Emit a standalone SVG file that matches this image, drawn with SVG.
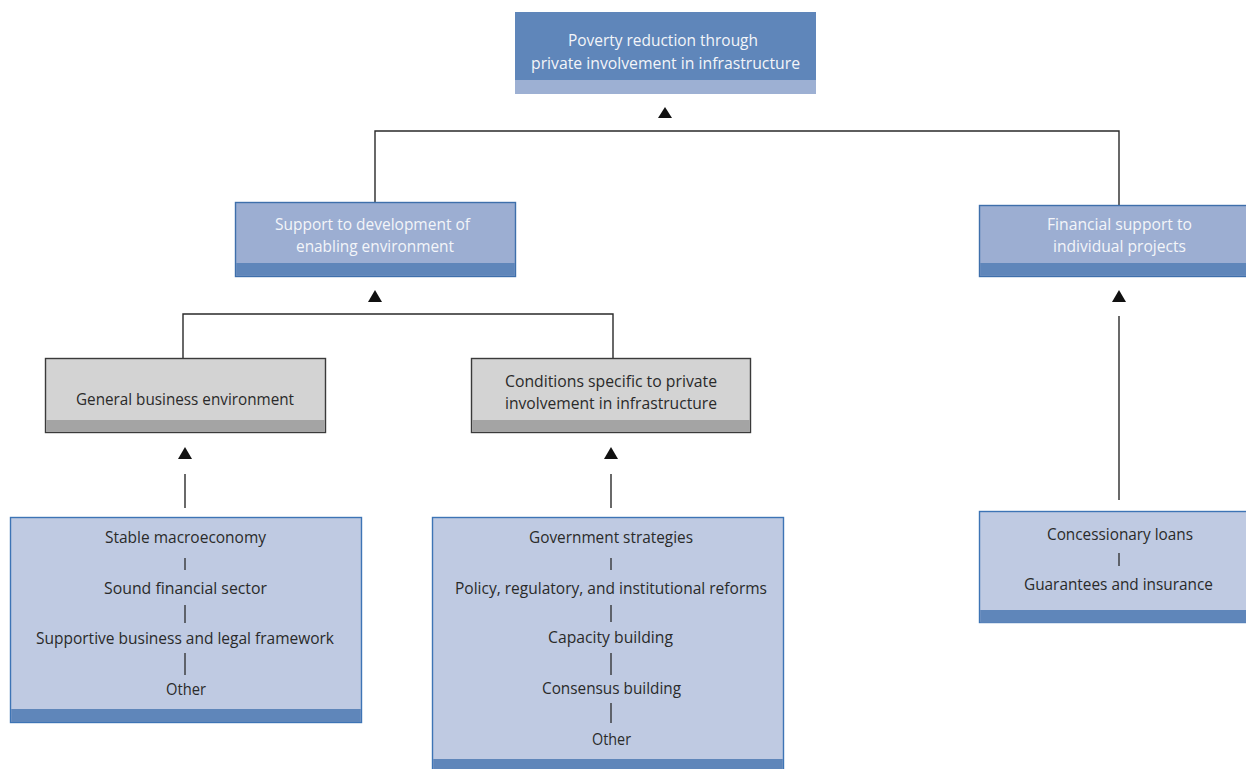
<svg xmlns="http://www.w3.org/2000/svg" width="1246" height="769" viewBox="0 0 1246 769">
<style>
text{font-family:"Open Sans","Liberation Sans",sans-serif;font-size:16.5px;text-anchor:middle}
.w{fill:#f3f5f9}
.d{fill:#2a2a2a}
.blueBox{fill:#9caed2;stroke:#3e6fab;stroke-width:1.4}
.topBox{fill:#5f86ba}
.strip{fill:#5f86ba}
.grayBox{fill:#d3d3d3;stroke:#3a3a3a;stroke-width:1.4}
.gstrip{fill:#a4a4a4}
.lightBox{fill:#bfcae2;stroke:#3d74b5;stroke-width:1.4}
.ln{stroke:#2a2a2a;stroke-width:1.4;fill:none}
.sep{stroke:#2a2a2a;stroke-width:1.3}
.tri{fill:#111}
</style>
<g id="connectors">
<polyline class="ln" points="375,202 375,131 1119,131 1119,205"/>
<polyline class="ln" points="183,358 183,314 613,314 613,358"/>
<line class="ln" x1="185" y1="474" x2="185" y2="508"/>
<line class="ln" x1="611" y1="474" x2="611" y2="508"/>
<line class="ln" x1="1119" y1="316" x2="1119" y2="500"/>
<polygon class="tri" points="665,107 672,118 658,118"/>
<polygon class="tri" points="375,290 382,302 368,302"/>
<polygon class="tri" points="1119,290 1126,302 1112,302"/>
<polygon class="tri" points="185,447 192,459 178,459"/>
<polygon class="tri" points="611,447 618,459 604,459"/>
</g>
<g id="n-poverty">
<rect class="topBox" x="515" y="12" width="301" height="68"/>
<rect fill="#9db0d3" x="515" y="80" width="301" height="14"/>
<text class="w" x="663" y="46" textLength="190" lengthAdjust="spacingAndGlyphs">Poverty reduction through</text>
<text class="w" x="665.5" y="69" textLength="269" lengthAdjust="spacingAndGlyphs">private involvement in infrastructure</text>
</g>
<g id="n-support">
<rect class="blueBox" x="235.5" y="202.5" width="280" height="74"/>
<rect class="strip" x="236.2" y="263" width="278.6" height="12.8"/>
<text class="w" x="372.5" y="230" textLength="195" lengthAdjust="spacingAndGlyphs">Support to development of</text>
<text class="w" x="375" y="252" textLength="158" lengthAdjust="spacingAndGlyphs">enabling environment</text>
</g>
<g id="n-financial">
<rect class="blueBox" x="979.5" y="205.5" width="280" height="71"/>
<rect class="strip" x="980.2" y="263" width="280" height="12.8"/>
<text class="w" x="1119.5" y="230" textLength="145" lengthAdjust="spacingAndGlyphs">Financial support to</text>
<text class="w" x="1119.5" y="252" textLength="133" lengthAdjust="spacingAndGlyphs">individual projects</text>
</g>
<g id="n-general">
<rect class="grayBox" x="45.5" y="358.5" width="280" height="74"/>
<rect class="gstrip" x="46.2" y="420" width="278.6" height="11.8"/>
<text class="d" x="185" y="405" textLength="218" lengthAdjust="spacingAndGlyphs">General business environment</text>
</g>
<g id="n-conditions">
<rect class="grayBox" x="471.5" y="358.5" width="279" height="74"/>
<rect class="gstrip" x="472.2" y="420" width="277.6" height="11.8"/>
<text class="d" x="611" y="387" textLength="212" lengthAdjust="spacingAndGlyphs">Conditions specific to private</text>
<text class="d" x="611" y="409" textLength="212" lengthAdjust="spacingAndGlyphs">involvement in infrastructure</text>
</g>
<g id="n-macro">
<rect class="lightBox" x="10.5" y="517.5" width="351" height="205"/>
<rect class="strip" x="11.2" y="709" width="349.6" height="13"/>
<text class="d" x="185.5" y="543" textLength="161" lengthAdjust="spacingAndGlyphs">Stable macroeconomy</text>
<text class="d" x="185.5" y="594" textLength="163" lengthAdjust="spacingAndGlyphs">Sound financial sector</text>
<text class="d" x="185" y="644" textLength="298" lengthAdjust="spacingAndGlyphs">Supportive business and legal framework</text>
<text class="d" x="186" y="695" textLength="40" lengthAdjust="spacingAndGlyphs">Other</text>
<line class="sep" x1="185" y1="558" x2="185" y2="570"/>
<line class="sep" x1="185" y1="605" x2="185" y2="623"/>
<line class="sep" x1="185" y1="653" x2="185" y2="675"/>
</g>
<g id="n-strategies">
<rect class="lightBox" x="432.5" y="517.5" width="351" height="260"/>
<rect class="strip" x="433.2" y="759" width="349.6" height="12"/>
<text class="d" x="611" y="543" textLength="164" lengthAdjust="spacingAndGlyphs">Government strategies</text>
<text class="d" x="611" y="594" textLength="312" lengthAdjust="spacingAndGlyphs">Policy, regulatory, and institutional reforms</text>
<text class="d" x="610.5" y="643" textLength="125" lengthAdjust="spacingAndGlyphs">Capacity building</text>
<text class="d" x="611.5" y="694" textLength="139" lengthAdjust="spacingAndGlyphs">Consensus building</text>
<text class="d" x="611.5" y="745" textLength="39" lengthAdjust="spacingAndGlyphs">Other</text>
<line class="sep" x1="611" y1="558" x2="611" y2="570"/>
<line class="sep" x1="611" y1="605" x2="611" y2="622"/>
<line class="sep" x1="611" y1="653" x2="611" y2="675"/>
<line class="sep" x1="611" y1="703" x2="611" y2="723"/>
</g>
<g id="n-loans">
<rect class="lightBox" x="979.5" y="511.5" width="280" height="111"/>
<rect class="strip" x="980.2" y="610" width="280" height="12.8"/>
<text class="d" x="1120" y="540" textLength="146" lengthAdjust="spacingAndGlyphs">Concessionary loans</text>
<text class="d" x="1118.5" y="590" textLength="189" lengthAdjust="spacingAndGlyphs">Guarantees and insurance</text>
<line class="sep" x1="1119" y1="553" x2="1119" y2="566"/>
</g>
</svg>
